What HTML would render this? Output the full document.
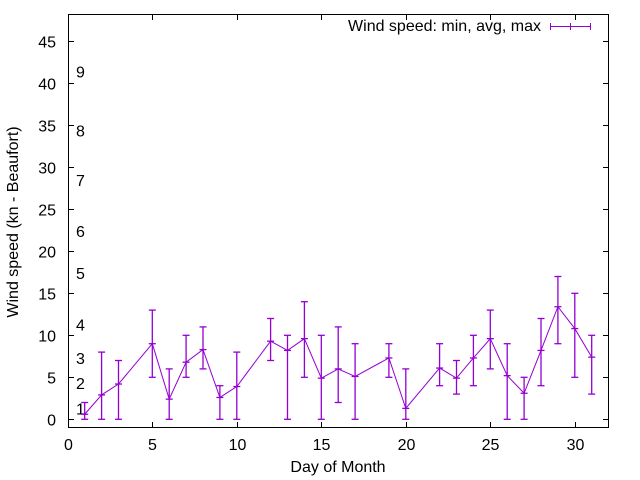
<!DOCTYPE html>
<html><head><meta charset="utf-8"><style>
body{margin:0;background:#fff}
svg{display:block;font-family:"Liberation Sans",sans-serif}
</style></head><body>
<svg id="chart" width="640" height="480">
<rect x="0" y="0" width="640" height="480" fill="#fff"/>
<g id="axes"></g>
<g id="marks"></g>
<text x="18" y="222" font-size="16" text-anchor="middle" transform="rotate(-90 18 222)">Wind speed (kn - Beaufort)</text>
<text x="338" y="472" font-size="16" text-anchor="middle">Day of Month</text>
<g>
<text x="541" y="31" font-size="16" text-anchor="end">Wind speed: min, avg, max</text>
<g stroke="#9400d3" stroke-width="1">
<line x1="550" y1="26.5" x2="591" y2="26.5"/><line x1="550.5" y1="23" x2="550.5" y2="30"/><line x1="590.5" y1="23" x2="590.5" y2="30"/><line x1="570.5" y1="23" x2="570.5" y2="30"/>
</g></g>
</svg>
<script>
const days=[1,2,3,5,6,7,8,9,10,12,13,14,15,16,17,19,20,22,23,24,25,26,27,28,29,30,31];
const avgs=[0.6,2.9,4.2,9.0,2.4,6.8,8.3,2.6,3.9,9.3,8.2,9.6,4.9,6.0,5.1,7.3,1.3,6.1,4.9,7.3,9.6,5.2,3.1,8.2,13.4,10.8,7.4];
const mins=[0,0,0,5,0,5,6,0,0,7,0,5,0,2,0,5,0,4,3,4,6,0,0,4,9,5,3];
const maxs=[2,8,7,13,6,10,11,4,8,12,10,14,10,11,9,9,6,9,7,10,13,9,5,12,17,15,10];
const xTicks=[0,5,10,15,20,25,30];
const yTicks=[0,5,10,15,20,25,30,35,40,45];
const beaufort=[1,2,3,4,5,6,7,8,9];
const beaufortY=[1.3,4.3,7.3,11.3,17.4,22.4,28.5,34.4,41.4];
const L=68,R=609,T=14,B=428;
const xs=v=>67.8+v*16.9;
const ys=v=>419.3-v*8.4;
const NS='http://www.w3.org/2000/svg';
function mk(p,t,a){const e=document.createElementNS(NS,t);for(const k in a)e.setAttribute(k,a[k]);p.appendChild(e);return e;}
const ax=document.getElementById('axes'),mg=document.getElementById('marks');
const frame=mk(ax,'rect',{x:L+0.5,y:T+0.5,width:R-L-1,height:B-T-1,fill:'none',stroke:'#000'});


xTicks.forEach(v=>{const x=Math.round(xs(v))+0.5;
mk(ax,'line',{x1:x,y1:B,x2:x,y2:B-6,stroke:'#000'});mk(ax,'line',{x1:x,y1:T,x2:x,y2:T+6,stroke:'#000'});
const t=mk(ax,'text',{x:x,y:450,'font-size':16,'text-anchor':'middle'});t.textContent=v;

});
yTicks.forEach(v=>{const y=Math.round(ys(v))+0.5;
mk(ax,'line',{x1:L,y1:y,x2:L+6,y2:y,stroke:'#000'});mk(ax,'line',{x1:R,y1:y,x2:R-6,y2:y,stroke:'#000'});
const t=mk(ax,'text',{x:56,y:y+6,'font-size':16,'text-anchor':'end'});t.textContent=v;

});
beaufort.forEach((b,i)=>{const t=mk(ax,'text',{x:76,y:ys(beaufortY[i])+6,'font-size':16});t.textContent=b;

});
const pts=days.map((d,i)=>xs(d)+','+ys(avgs[i])).join(' ');
const line=mk(mg,'polyline',{points:pts,fill:'none',stroke:'#9400d3','stroke-width':1});


days.forEach((d,i)=>{const g=mk(mg,'g',{stroke:'#9400d3','stroke-width':1.3});


const x=xs(d);
mk(g,'line',{x1:x,y1:ys(mins[i]),x2:x,y2:ys(maxs[i])});
[mins[i],maxs[i]].forEach(v=>mk(g,'line',{x1:x-3.5,y1:ys(v),x2:x+3.5,y2:ys(v)}));
mk(g,'line',{x1:x-3.5,y1:ys(avgs[i]),x2:x+3.5,y2:ys(avgs[i])});
});
</script>
</body></html>
